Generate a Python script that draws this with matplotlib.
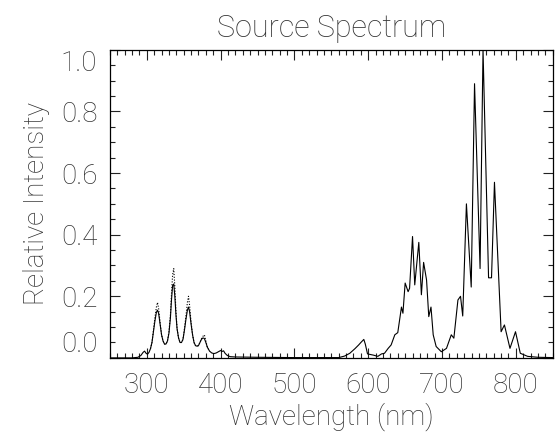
import numpy as np
import matplotlib
matplotlib.use("Agg")
import matplotlib.pyplot as plt
from matplotlib.ticker import MultipleLocator

# source spectrum (nm, relative intensity)
wavelength = [250, 280, 288, 292, 295, 297, 299, 301, 303, 305, 307, 309, 311, 313,
              314.5, 316, 318, 320, 322, 324, 326, 328, 330, 332, 333.5, 335, 336.5,
              338, 339.5, 341, 343, 345, 347, 349, 351, 353, 355, 356.5, 358, 360,
              362, 364, 366, 368, 370, 372, 374, 376, 378, 380, 382, 385, 388, 391,
              394, 397, 400, 402, 404, 406, 409, 413, 420, 450, 500, 560, 568, 575,
              582, 587, 590, 594, 596, 599, 607, 613, 618, 622, 627, 631, 636, 640,
              645, 647, 650, 654, 656, 660, 663, 668.5, 672, 675, 679, 682, 685, 688,
              692, 699, 706, 712.5, 716, 721.5, 725, 728, 733, 739.5, 744, 751.5,
              755.5, 763, 767, 771, 780, 784.5, 792, 799.5, 806, 816, 830, 850]
intensity = [0.0, 0.0, 0.002, 0.008, 0.018, 0.022, 0.015, 0.012, 0.018, 0.03, 0.05,
             0.085, 0.12, 0.148, 0.155, 0.145, 0.11, 0.075, 0.055, 0.045, 0.045, 0.055,
             0.08, 0.13, 0.19, 0.235, 0.24, 0.2, 0.14, 0.095, 0.065, 0.05, 0.05, 0.06,
             0.09, 0.125, 0.155, 0.165, 0.15, 0.11, 0.075, 0.05, 0.04, 0.038, 0.04,
             0.05, 0.06, 0.065, 0.063, 0.05, 0.035, 0.022, 0.016, 0.014, 0.016, 0.02,
             0.024, 0.021, 0.023, 0.015, 0.008, 0.004, 0.003, 0.002, 0.001, 0.001,
             0.006, 0.015, 0.03, 0.042, 0.05, 0.06, 0.045, 0.013, 0.009, 0.005, 0.013,
             0.015, 0.031, 0.042, 0.075, 0.082, 0.165, 0.145, 0.243, 0.215, 0.226,
             0.394, 0.237, 0.375, 0.205, 0.31, 0.253, 0.134, 0.165, 0.075, 0.037,
             0.02, 0.031, 0.075, 0.064, 0.188, 0.20, 0.136, 0.50, 0.23, 0.89, 0.29,
             1.0, 0.26, 0.26, 0.57, 0.085, 0.107, 0.031, 0.085, 0.015, 0.005, 0.002,
             0.001]

# dotted curve: differs only around the UV lines
uv_wavelength = [305, 307, 309, 311, 313, 314.5, 316, 318, 320, 322, 324, 326, 328,
                 330, 332, 333.5, 335, 336.5, 338, 339.5, 341, 343, 345, 347, 349, 351,
                 353, 355, 356.5, 358, 360, 362, 364, 366, 368, 370, 372, 374, 376,
                 378, 380, 382, 385]
uv_intensity = [0.03, 0.05, 0.09, 0.13, 0.165, 0.18, 0.16, 0.115, 0.075, 0.055, 0.045,
                0.045, 0.055, 0.085, 0.14, 0.21, 0.27, 0.29, 0.23, 0.15, 0.095, 0.065,
                0.05, 0.05, 0.06, 0.095, 0.135, 0.18, 0.20, 0.17, 0.115, 0.075, 0.05,
                0.04, 0.038, 0.04, 0.05, 0.062, 0.07, 0.075, 0.055, 0.035, 0.022]

xticks = [300, 400, 500, 600, 700, 800]
yticks = [0.0, 0.2, 0.4, 0.6, 0.8, 1.0]

plt.rcParams['font.family'] = ['Roboto', 'DejaVu Sans']
plt.rcParams['font.weight'] = 'light'
txt = '#333333'

fig = plt.figure(figsize=(5.55, 4.37), dpi=100)
ax = fig.add_axes([0.198, 0.181, 0.798, 0.705])

ax.plot(uv_wavelength, uv_intensity, color='black', linestyle=(0, (1, 1.5)), linewidth=0.8)
ax.plot(wavelength, intensity, color='black', linewidth=0.8)

ax.set_xlim(250, 850)
ax.set_ylim(0, 1)
ax.set_xticks(xticks)
ax.set_yticks(yticks)
ax.set_yticklabels([f"{v:.1f}" for v in yticks])
ax.xaxis.set_minor_locator(MultipleLocator(10))
ax.yaxis.set_minor_locator(MultipleLocator(0.05))
ax.tick_params(which='both', direction='in', top=True, right=True, colors='#222222',
               labelcolor=txt, labelsize=20, width=0.8)
ax.tick_params(which='major', length=7)
ax.tick_params(axis='x', which='major', pad=10)
ax.tick_params(axis='y', which='major', pad=9)
ax.tick_params(which='minor', length=3.5)
for lab in ax.get_xticklabels() + ax.get_yticklabels():
    lab.set_fontweight('light')
ylabs = ax.get_yticklabels()
ylabs[0].set_va('bottom')
ylabs[-1].set_va('top')

for s in ax.spines.values():
    s.set_linewidth(0.9)

ax.set_title('Source Spectrum', fontsize=22, color=txt, pad=9, fontweight='light')
ax.set_xlabel('Wavelength (nm)', fontsize=20, color=txt, labelpad=3, fontweight='light')
ax.set_ylabel('Relative Intensity', fontsize=20, color=txt, labelpad=8, fontweight='light')

fig.savefig('out.png', dpi=100)
